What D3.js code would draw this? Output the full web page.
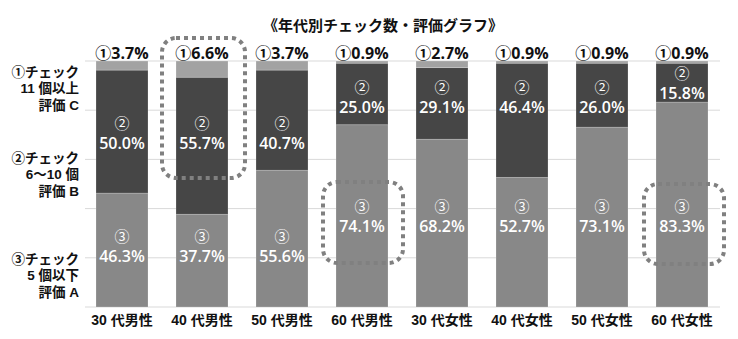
<!DOCTYPE html>
<html><head><meta charset="utf-8">
<script src="https://cdn.jsdelivr.net/npm/d3@7"></script>
<style>
html,body{margin:0;padding:0;background:#fff;}
svg{display:block;}
</style></head>
<body>
<svg id="chart" width="738" height="339"></svg>
<script>
const title = "《年代別チェック数・評価グラフ》";
const categories = ["30 代男性","40 代男性","50 代男性","60 代男性","30 代女性","40 代女性","50 代女性","60 代女性"];
const level1 = [3.7, 6.6, 3.7, 0.9, 2.7, 0.9, 0.9, 0.9];   // ① 11個以上 評価C
const level2 = [50.0, 55.7, 40.7, 25.0, 29.1, 46.4, 26.0, 15.8]; // ② 6～10個 評価B
const level3 = [46.3, 37.7, 55.6, 74.1, 68.2, 52.7, 73.1, 83.3]; // ③ 5個以下 評価A
const yTicks = [0, 20, 40, 60, 80, 100];
const legendLines = [
  ["①チェック","11 個以上","評価 C"],
  ["②チェック","6～10 個","評価 B"],
  ["③チェック","5 個以下","評価 A"]
];

// layout (pixels)
const plotTop = 61, plotBottom = 307;
const label2Y = [133,133,133,97,97,97,97,83];
const label3Y = [246,246,246,216,216,216,216,216];
const legendY = [72, 158, 259];
const boxes = [
  {i:1, y0:38, y1:178, dx0:-40, dx1:43},
  {i:3, y0:182, y1:263, dx0:-39, dx1:41},
  {i:7, y0:184, y1:264, dx0:-38, dx1:42}
];

const svg = d3.select("#chart");
const x = d3.scaleBand().domain(categories).range([82, 722]).paddingInner(0.35).paddingOuter(0.175);
const y = d3.scaleLinear().domain([0, 100]).range([plotBottom, plotTop]);

const colors = {l1:"#a2a2a2", l2:"#464646", l3:"#888888"};
const fontJP = "'Liberation Sans','Noto Sans CJK JP',sans-serif";
const fontNum = "'Open Sans','Noto Sans CJK JP',sans-serif";

// gridlines
svg.append("g").selectAll("line").data(yTicks).join("line")
  .attr("x1", 85).attr("x2", 720)
  .attr("y1", d => y(d)).attr("y2", d => y(d))
  .attr("stroke", "#d9d9d9").attr("stroke-width", 1);

// stacked data
const keys = ["l3","l2","l1"];
const rows = categories.map((c,i) => ({cat:c, l1:level1[i], l2:level2[i], l3:level3[i]}));
const stack = d3.stack().keys(keys)(rows);

svg.append("g").selectAll("g").data(stack).join("g")
  .attr("fill", s => colors[s.key])
  .selectAll("rect").data(s => s).join("rect")
  .attr("x", d => x(d.data.cat))
  .attr("width", x.bandwidth())
  .attr("y", d => y(d[1]))
  .attr("height", d => y(d[0]) - y(d[1]))
  .attr("stroke", "rgba(255,255,255,0.25)").attr("stroke-width", 0.8);

// top labels ①
svg.append("g").selectAll("text").data(rows).join("text")
  .attr("x", d => x(d.cat) + x.bandwidth()/2)
  .attr("y", 59)
  .attr("text-anchor", "middle")
  .attr("font-family", fontNum).attr("font-weight", "bold").attr("font-size", 16)
  .attr("fill", "#111")
  .text(d => "①" + d.l1.toFixed(1) + "%");

// inner labels
function innerLabel(sym, vals, ys){
  const g = svg.append("g").attr("fill", "#fff").attr("font-family", fontNum)
    .attr("text-anchor", "middle").attr("font-size", 16).attr("font-weight", 600);
  g.selectAll("text.sym").data(rows).join("text").attr("class","sym")
    .attr("x", d => x(d.cat) + x.bandwidth()/2)
    .attr("y", (d,i) => ys[i] - 10)
    .attr("dominant-baseline", "central")
    .attr("font-size", 15).attr("font-weight", 400)
    .text(sym);
  g.selectAll("text.val").data(rows).join("text").attr("class","val")
    .attr("x", d => x(d.cat) + x.bandwidth()/2)
    .attr("y", (d,i) => ys[i] + 10)
    .attr("dominant-baseline", "central")
    .text((d,i) => vals[i].toFixed(1) + "%");
}
innerLabel("②", level2, label2Y);
innerLabel("③", level3, label3Y);

// x axis labels
svg.append("g").selectAll("text").data(categories).join("text")
  .attr("x", d => x(d) + x.bandwidth()/2)
  .attr("y", 320)
  .attr("dominant-baseline", "central")
  .attr("text-anchor", "middle")
  .attr("font-family", fontJP).attr("font-weight", "bold").attr("font-size", 14)
  .attr("fill", "#111")
  .text(d => d);

// legend on left
legendLines.forEach((lines, gi) => {
  svg.append("g").selectAll("text").data(lines).join("text")
    .attr("x", 79)
    .attr("y", (d,k) => legendY[gi] + k*16.5)
    .attr("dominant-baseline", "central")
    .attr("text-anchor", "end")
    .attr("font-family", fontJP).attr("font-weight", "bold").attr("font-size", 13.5)
    .attr("fill", "#111")
    .text(d => d);
});

// title
svg.append("text")
  .attr("x", 383).attr("y", 24)
  .attr("dominant-baseline", "central")
  .attr("text-anchor", "middle")
  .attr("font-family", "'Noto Sans CJK JP',sans-serif").attr("font-weight", "bold").attr("font-size", 15)
  .attr("fill", "#111")
  .text(title);

// dashed highlight boxes
svg.append("g").selectAll("rect").data(boxes).join("rect")
  .attr("x", b => x(categories[b.i]) + x.bandwidth()/2 + b.dx0)
  .attr("width", b => b.dx1 - b.dx0)
  .attr("y", b => b.y0)
  .attr("height", b => b.y1 - b.y0)
  .attr("rx", 14).attr("ry", 14)
  .attr("fill", "none")
  .attr("stroke", "#808080").attr("stroke-width", 4)
  .attr("stroke-dasharray", "4,4");
</script>
</body></html>
